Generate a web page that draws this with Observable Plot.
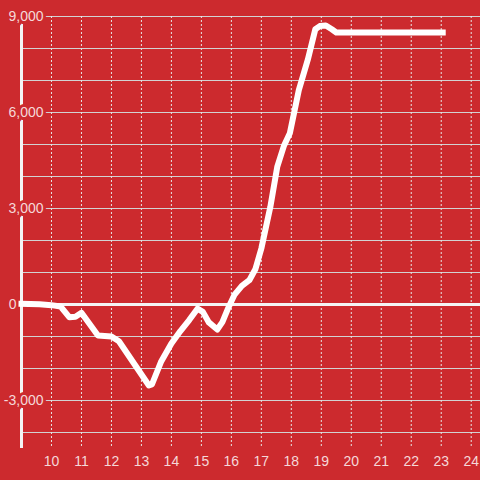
<!DOCTYPE html>
<html>
<head>
<meta charset="utf-8">
<script src="https://cdn.jsdelivr.net/npm/d3@7"></script>
<script src="https://cdn.jsdelivr.net/npm/@observablehq/plot@0.6"></script>
<style>
  html, body { margin: 0; padding: 0; background: #cc2a2e; }
  #chart svg { display: block; }
</style>
</head>
<body>
<div id="chart"></div>
<script>
const xs = [9.0, 9.6, 10.0, 10.3, 10.6, 10.8, 11.0, 11.55, 12.0, 12.25, 13.25, 13.35, 13.65, 14.0, 14.3, 14.6, 14.87, 15.05, 15.25, 15.53, 15.7, 15.9, 16.1, 16.35, 16.6, 16.8, 17.0, 17.3, 17.53, 17.75, 17.95, 18.25, 18.55, 18.8, 18.95, 19.15, 19.35, 19.5, 20.0, 21.0, 22.0, 23.05];
const ys = [20, 10, -20, -60, -400, -380, -260, -970, -1000, -1150, -2530, -2500, -1800, -1220, -830, -480, -130, -230, -560, -780, -550, -100, 300, 580, 760, 1100, 1750, 3050, 4300, 4950, 5350, 6700, 7650, 8600, 8700, 8720, 8600, 8500, 8500, 8500, 8500, 8500];
const xTicks = [10, 11, 12, 13, 14, 15, 16, 17, 18, 19, 20, 21, 22, 23, 24];
const yTicks = [9000, 6000, 3000, 0, -3000];
const yTickLabels = ["9,000", "6,000", "3,000", "0", "-3,000"];
const yGrid = [-4000, -3000, -2000, -1000, 1000, 2000, 3000, 4000, 5000, 6000, 7000, 8000, 9000];

const data = xs.map((x, i) => ({x, y: ys[i]}));
const labels = yTicks.map((y, i) => ({y, label: yTickLabels[i]}));
const bg = "#cc2a2e";
const txt = "#f5d8d9";

const chart = Plot.plot({
  width: 480,
  height: 480,
  marginLeft: 21,
  marginRight: 0,
  marginTop: 16,
  marginBottom: 32,
  style: {background: bg, fontFamily: "'Liberation Sans', Arial, sans-serif", fontSize: "14px"},
  x: {domain: [9, 24.31], axis: null},
  y: {domain: [-4500, 9000], axis: null},
  marks: [
    Plot.ruleY(yGrid, {stroke: "#d2d2d2", strokeWidth: 1}),
    Plot.ruleX(xTicks, {stroke: "#e6e6e6", strokeWidth: 1, strokeDasharray: "2,2"}),
    Plot.ruleY([0], {stroke: "#f4f4f4", strokeWidth: 3}),
    Plot.ruleX([9], {stroke: "#f4f4f4", strokeWidth: 3}),
    Plot.text(labels.filter(d => d.y !== 0), {x: () => 9, y: "y", text: "label", textAnchor: "end", dx: 22, fill: txt, stroke: bg, strokeWidth: 6, fontSize: 14}),
    Plot.text(labels.filter(d => d.y === 0), {x: () => 9, y: "y", text: "label", textAnchor: "end", dx: -5, fill: txt, fontSize: 14}),
    Plot.axisX(xTicks, {tickSize: 0, tickPadding: 8, fontSize: 14, color: txt, tickFormat: d => String(d), label: null}),
    Plot.line(data, {x: "x", y: "y", stroke: "#ffffff", strokeWidth: 6, strokeLinejoin: "round", strokeLinecap: "square"})
  ]
});
document.getElementById("chart").appendChild(chart);
</script>
</body>
</html>
